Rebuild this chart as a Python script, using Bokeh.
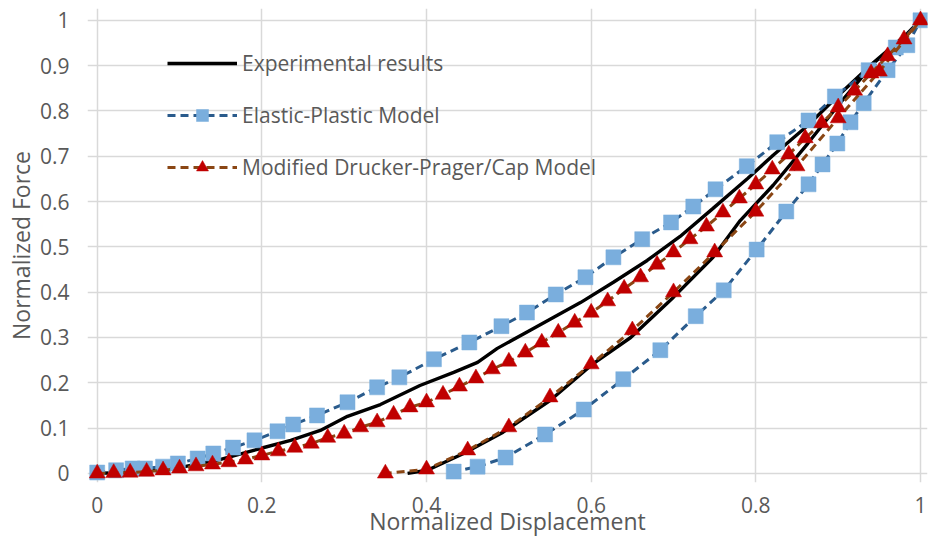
from bokeh.plotting import figure
from bokeh.models import FixedTicker, Legend, LegendItem, Range1d
from bokeh.embed import file_html
from bokeh.resources import INLINE

# ---- data ----
x_ticks = [0, 0.2, 0.4, 0.6, 0.8, 1]
x_tick_labels = ["0", "0.2", "0.4", "0.6", "0.8", "1"]
y_ticks = [0, 0.1, 0.2, 0.3, 0.4, 0.5, 0.6, 0.7, 0.8, 0.9, 1]
y_tick_labels = ["0", "0.1", "0.2", "0.3", "0.4", "0.5", "0.6", "0.7", "0.8", "0.9", "1"]

series_names = ["Experimental results", "Elastic-Plastic Model", "Modified Drucker-Prager/Cap Model"]

# Experimental results (loading, then unloading)
exp_load_x = [0, 0.05, 0.10, 0.15, 0.198, 0.235, 0.271, 0.304, 0.344, 0.392, 0.433, 0.462,
              0.486, 0.526, 0.554, 0.587, 0.627, 0.668, 0.708, 0.748, 0.790, 0.821, 0.863,
              0.903, 0.943, 0.984, 1.0]
exp_load_y = [0, 0.004, 0.013, 0.031, 0.055, 0.073, 0.095, 0.126, 0.152, 0.194, 0.223, 0.245,
              0.276, 0.316, 0.344, 0.377, 0.422, 0.470, 0.523, 0.585, 0.651, 0.702, 0.768,
              0.839, 0.907, 0.971, 1.0]
exp_unload_x = [1.0, 0.984, 0.943, 0.903, 0.863, 0.821, 0.781, 0.748, 0.700, 0.648, 0.603,
                0.550, 0.493, 0.445, 0.401, 0.377]
exp_unload_y = [1.0, 0.971, 0.905, 0.819, 0.728, 0.636, 0.558, 0.477, 0.389, 0.300, 0.243,
                0.161, 0.091, 0.044, 0.007, 0.0]

# Elastic-Plastic Model (loading, then unloading)
ep_load_x = [0.0, 0.023, 0.043, 0.058, 0.080, 0.098, 0.122, 0.141, 0.165, 0.191, 0.219, 0.238,
             0.267, 0.304, 0.340, 0.367, 0.409, 0.452, 0.491, 0.522, 0.557, 0.593, 0.627,
             0.662, 0.697, 0.724, 0.751, 0.789, 0.826, 0.864, 0.896, 0.937, 0.970, 1.0]
ep_load_y = [0.002, 0.007, 0.011, 0.011, 0.015, 0.022, 0.033, 0.044, 0.057, 0.073, 0.093, 0.108,
             0.128, 0.157, 0.190, 0.212, 0.252, 0.289, 0.325, 0.355, 0.395, 0.433, 0.477,
             0.517, 0.554, 0.589, 0.627, 0.678, 0.731, 0.779, 0.832, 0.890, 0.940, 1.0]
ep_unload_x = [1.0, 0.984, 0.960, 0.931, 0.915, 0.899, 0.881, 0.864, 0.837, 0.801, 0.761,
               0.727, 0.684, 0.639, 0.591, 0.544, 0.496, 0.462, 0.433]
ep_unload_y = [1.0, 0.945, 0.890, 0.817, 0.775, 0.728, 0.682, 0.638, 0.578, 0.494, 0.404,
               0.347, 0.272, 0.208, 0.141, 0.086, 0.035, 0.015, 0.004]

# Modified Drucker-Prager/Cap Model (loading, then unloading)
dp_load_x = [0.00, 0.02, 0.04, 0.06, 0.08, 0.10, 0.12, 0.14, 0.16, 0.18, 0.20, 0.22, 0.24,
             0.26, 0.28, 0.30, 0.32, 0.34, 0.36, 0.38, 0.40, 0.42, 0.44, 0.46, 0.48, 0.50,
             0.52, 0.54, 0.56, 0.58, 0.60, 0.62, 0.64, 0.66, 0.68, 0.70, 0.72, 0.74, 0.76,
             0.78, 0.80, 0.82, 0.84, 0.86, 0.88, 0.90, 0.92, 0.94, 0.96, 0.98, 1.00]
dp_load_y = [0.000, 0.001, 0.002, 0.004, 0.007, 0.011, 0.016, 0.020, 0.025, 0.031, 0.040,
             0.049, 0.057, 0.066, 0.079, 0.088, 0.102, 0.113, 0.130, 0.146, 0.157, 0.174,
             0.192, 0.210, 0.230, 0.247, 0.267, 0.289, 0.311, 0.333, 0.355, 0.380, 0.408,
             0.433, 0.461, 0.488, 0.517, 0.545, 0.576, 0.607, 0.638, 0.671, 0.704, 0.740,
             0.773, 0.808, 0.845, 0.883, 0.921, 0.958, 1.000]
dp_unload_x = [1.00, 0.95, 0.90, 0.85, 0.80, 0.75, 0.70, 0.65, 0.60, 0.55, 0.50, 0.45, 0.40, 0.35]
dp_unload_y = [1.000, 0.887, 0.784, 0.678, 0.578, 0.488, 0.400, 0.316, 0.241, 0.168, 0.102,
               0.051, 0.009, 0.000]

# ---- styles ----
FONT = "Open Sans"
TXT = "#595959"
GRID = "#D9D9D9"
BLACK = "#000000"
BLUE_LINE = "#2A5B8C"
BLUE_FILL = "#7AAEDD"
BROWN_LINE = "#8A4614"
RED_FILL = "#C00000"

p = figure(width=928, height=539,
           x_range=Range1d(-0.0118, 1.0085), y_range=Range1d(-0.02, 1.026),
           min_border_left=87, min_border_right=1, min_border_top=8, min_border_bottom=57,
           toolbar_location=None, output_backend="svg")
p.outline_line_color = None
p.background_fill_color = "white"

for ax, ticks, labels in ((p.xaxis[0], x_ticks, x_tick_labels), (p.yaxis[0], y_ticks, y_tick_labels)):
    ax.ticker = FixedTicker(ticks=ticks)
    ax.major_label_overrides = dict(zip(ticks, labels))
    ax.axis_line_color = None
    ax.major_tick_line_color = None
    ax.minor_tick_line_color = None
    ax.major_label_text_font = FONT
    ax.major_label_text_font_size = "21px"
    ax.major_label_text_color = TXT
    ax.axis_label_text_font = FONT
    ax.axis_label_text_font_size = "23px"
    ax.axis_label_text_font_style = "normal"
    ax.axis_label_text_color = TXT

p.xaxis.axis_label = "Normalized Displacement"
p.yaxis.axis_label = "Normalized Force"
p.xaxis.major_label_standoff = 8
p.xaxis.axis_label_standoff = -11
p.yaxis.major_label_standoff = 12
p.yaxis.axis_label_standoff = 0

p.xgrid.ticker = FixedTicker(ticks=x_ticks)
p.ygrid.ticker = FixedTicker(ticks=y_ticks)
for g in (p.xgrid[0], p.ygrid[0]):
    g.grid_line_color = GRID
    g.grid_line_width = 1.5
    g.bounds = (0, 1)

# experimental
r_exp = p.line(exp_load_x + exp_unload_x[1:], exp_load_y + exp_unload_y[1:],
               line_color=BLACK, line_width=3.4)

# elastic-plastic
ep_x = ep_load_x + ep_unload_x[1:]
ep_y = ep_load_y + ep_unload_y[1:]
r_ep_line = p.line(ep_x, ep_y, line_color=BLUE_LINE, line_width=3, line_dash="8 5")
r_ep_mark = p.scatter(ep_x, ep_y, marker="square", size=15, fill_color=BLUE_FILL,
                      line_color=BLUE_FILL, line_width=0.5)

# drucker-prager
dp_x = dp_load_x + dp_unload_x[1:]
dp_y = dp_load_y + dp_unload_y[1:]
r_dp_line = p.line(dp_x, dp_y, line_color=BROWN_LINE, line_width=3, line_dash="8 5")
r_dp_mark = p.scatter(dp_x, dp_y, marker="triangle", size=16, fill_color=RED_FILL,
                      line_color=RED_FILL, line_width=0.5)

legend = Legend(items=[
    LegendItem(label=series_names[0], renderers=[r_exp]),
    LegendItem(label=series_names[1], renderers=[r_ep_line, r_ep_mark]),
    LegendItem(label=series_names[2], renderers=[r_dp_line, r_dp_mark]),
], location=(80, 300))
legend.background_fill_alpha = 0
legend.border_line_alpha = 0
legend.padding = 0
legend.margin = 0
legend.spacing = 22
legend.glyph_width = 70
legend.glyph_height = 30
legend.label_height = 30
legend.label_standoff = 5
legend.label_text_font = FONT
legend.label_text_font_size = "21px"
legend.label_text_color = TXT
p.add_layout(legend)

open("out.html", "w").write(file_html(p, INLINE))
